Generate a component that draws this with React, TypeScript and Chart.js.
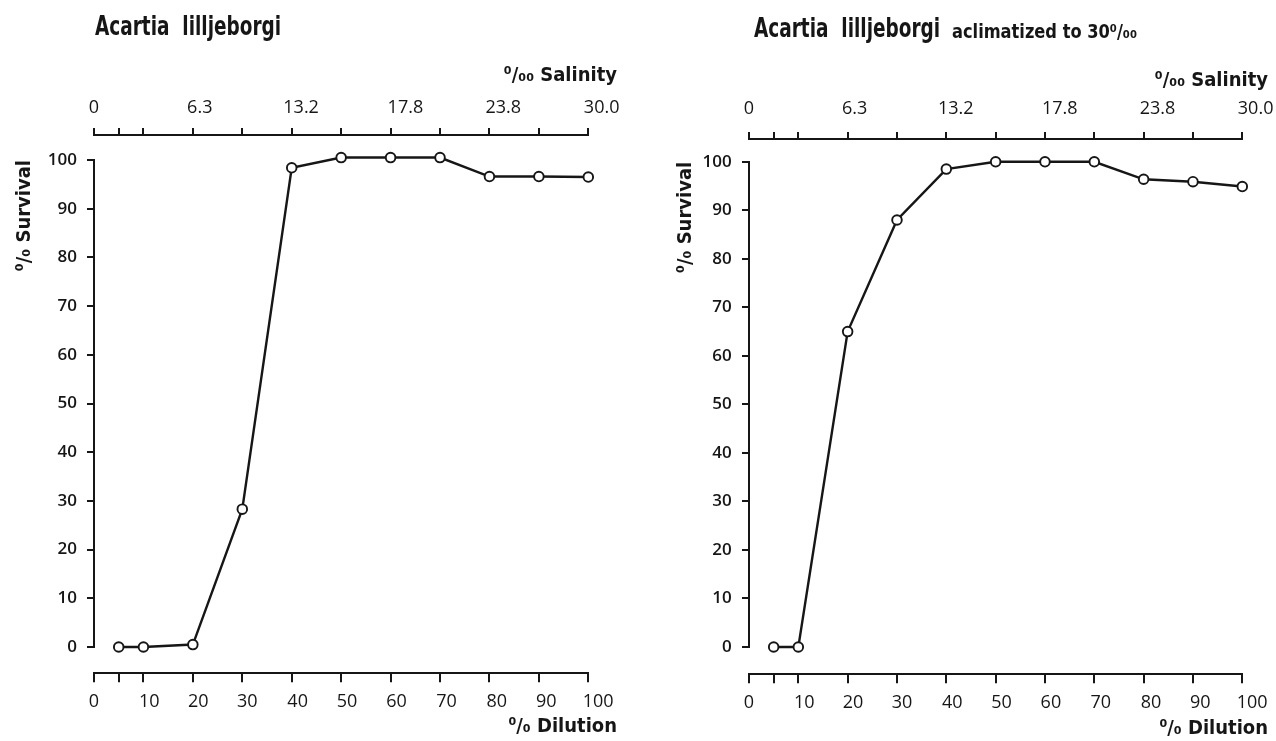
import React, { useEffect, useRef } from 'react';
import { Chart, registerables } from 'chart.js';

Chart.register(...registerables);

// ---- data ----
const dilution = [5, 10, 20, 30, 40, 50, 60, 70, 80, 90, 100];
const survivalPlain = [0, 0, 0.5, 28.3, 98.4, 100.5, 100.5, 100.5, 96.6, 96.6, 96.5];
const survivalAcclimated = [0, 0, 65, 88, 98.5, 100, 100, 100, 96.4, 95.9, 94.9];

const tickMarks = [0, 5, 10, 20, 30, 40, 50, 60, 70, 80, 90, 100];
const dilutionLabels = ['0', '10', '20', '30', '40', '50', '60', '70', '80', '90', '100'];
const dilutionLabelAt = [0, 11.2, 21.1, 31, 41.2, 51.2, 61.2, 71.3, 81.5, 91.5, 102];
const salinityLabels = ['0', '6.3', '13.2', '17.8', '23.8', '30.0'];
const salinityLabelAt = [0, 21.4, 41.9, 63, 82.8, 102.7];

const INK = '#161616';
const NARROW = '"Liberation Sans Narrow", "DejaVu Sans Condensed", "Liberation Sans", sans-serif';
const TICKFONT = '"Open Sans", "DejaVu Sans", sans-serif';

type Geo = {
  padL: number; padR: number; yW: number; rightW: number;
  titlePadTop: number; topAxisH: number; topLabelPad: number; topGap: number;
  bottomGap: number; bottomAxisH: number; bottomLabelPad: number; subPadBottom: number;
  yTitlePad: number; yLabelPad: number;
};

const geoLeft: Geo = {
  padL: 5, padR: 23, yW: 89, rightW: 28.7,
  titlePadTop: 64, topAxisH: 47, topLabelPad: 9.7, topGap: 25,
  bottomGap: 26.3, bottomAxisH: 41.7, bottomLabelPad: 8.4, subPadBottom: 2,
  yTitlePad: 8, yLabelPad: 10,
};

const geoRight: Geo = {
  padL: 25, padR: 8, yW: 84, rightW: 25.7,
  titlePadTop: 69, topAxisH: 46, topLabelPad: 12.2, topGap: 22.8,
  bottomGap: 27.3, bottomAxisH: 42.7, bottomLabelPad: 8.4, subPadBottom: 0,
  yTitlePad: 9, yLabelPad: 10.3,
};

function spacer(position: string, weight: number, size: number) {
  const horizontal = position === 'top' || position === 'bottom';
  return {
    type: 'linear',
    axis: horizontal ? 'x' : 'y',
    position,
    weight,
    display: true,
    grid: { display: false, drawTicks: false },
    border: { display: false },
    ticks: { display: false },
    afterFit: (s: any) => {
      if (horizontal) { s.height = size; s.paddingLeft = 0; s.paddingRight = 0; }
      else { s.width = size; s.paddingTop = 0; s.paddingBottom = 0; }
    },
  };
}

function markedAxis(position: string, labelAt: number[], labels: string[], height: number, tickLen: number, labelPad: number) {
  return {
    type: 'linear',
    axis: 'x',
    position,
    weight: 1,
    min: 0,
    max: 100,
    afterBuildTicks: (s: any) => {
      s.ticks = [...tickMarks, ...labelAt].map((v) => ({ value: v }));
    },
    afterFit: (s: any) => { s.height = height; s.paddingLeft = 0; s.paddingRight = 0; },
    grid: {
      display: true,
      drawOnChartArea: false,
      drawTicks: true,
      tickLength: tickLen,
      lineWidth: 2,
      color: INK,
      tickColor: (c: any) => (c.index < tickMarks.length ? INK : 'rgba(0,0,0,0)'),
    },
    border: { display: true, color: INK, width: 2 },
    ticks: {
      autoSkip: false,
      maxRotation: 0,
      minRotation: 0,
      padding: labelPad,
      color: INK,
      font: { family: TICKFONT, size: 18, weight: 'normal' },
      callback: (_v: any, i: number) => (i >= tickMarks.length ? labels[i - tickMarks.length] : ''),
    },
  };
}

function buildChart(canvas: HTMLCanvasElement, values: number[], g: Geo) {
  const points = dilution.map((d, i) => ({ x: d, y: values[i] }));
  return new Chart(canvas, {
    type: 'line',
    data: {
      datasets: [
        {
          data: points,
          xAxisID: 'x',
          yAxisID: 'y',
          borderColor: INK,
          borderWidth: 2.4,
          backgroundColor: '#ffffff',
          pointBackgroundColor: '#ffffff',
          pointBorderColor: INK,
          pointBorderWidth: 1.9,
          pointRadius: 4.8,
          tension: 0,
          clip: false as any,
        },
      ],
    },
    options: {
      responsive: false,
      animation: false,
      events: [],
      layout: { padding: { left: g.padL, right: g.padR, top: 0, bottom: 0 } },
      plugins: {
        legend: { display: false },
        tooltip: { enabled: false },
        title: {
          display: true,
          text: '\u2070/\u2080\u2080 Salinity',
          position: 'top',
          align: 'end',
          color: INK,
          font: { family: NARROW, size: 20, weight: 'bold' },
          padding: { top: g.titlePadTop, bottom: 0 },
        },
        subtitle: {
          display: true,
          text: '\u2070/\u2080 Dilution',
          position: 'bottom',
          align: 'end',
          color: INK,
          font: { family: NARROW, size: 20, weight: 'bold' },
          padding: { top: 0, bottom: g.subPadBottom },
        },
      },
      scales: {
        x: markedAxis('bottom', dilutionLabelAt, dilutionLabels, g.bottomAxisH, 9, g.bottomLabelPad) as any,
        y: {
          type: 'linear',
          axis: 'y',
          position: 'left',
          min: 0,
          max: 100,
          afterFit: (s: any) => { s.width = g.yW; },
          grid: {
            display: true,
            drawOnChartArea: false,
            drawTicks: true,
            tickLength: 7,
            lineWidth: 2,
            color: INK,
          },
          border: { display: true, color: INK, width: 2 },
          ticks: {
            stepSize: 10,
            padding: g.yLabelPad,
            color: INK,
            font: { family: TICKFONT, size: 17, weight: '600' },
          },
          title: {
            display: true,
            text: '\u2070/\u2080 Survival',
            align: 'end',
            color: INK,
            font: { family: NARROW, size: 20, weight: 'bold' },
            padding: { top: g.yTitlePad, bottom: 0 },
          },
        } as any,
        x2: markedAxis('top', salinityLabelAt, salinityLabels, g.topAxisH, 7, g.topLabelPad) as any,
        gapTop: spacer('top', 0, g.topGap) as any,
        gapBottom: spacer('bottom', 0, g.bottomGap) as any,
        gapRight: spacer('right', 0, g.rightW) as any,
      },
    },
  });
}

export default function App() {
  const leftRef = useRef<HTMLCanvasElement | null>(null);
  const rightRef = useRef<HTMLCanvasElement | null>(null);

  useEffect(() => {
    const a = buildChart(leftRef.current!, survivalPlain, geoLeft);
    const b = buildChart(rightRef.current!, survivalAcclimated, geoRight);
    return () => { a.destroy(); b.destroy(); };
  }, []);

  const titleStyle: React.CSSProperties = {
    position: 'absolute',
    fontFamily: NARROW,
    fontWeight: 'bold',
    fontSize: 26,
    lineHeight: '30px',
    color: INK,
    whiteSpace: 'pre',
    transformOrigin: '0 50%',
  };

  return (
    <div style={{ position: 'absolute', left: 0, top: 0, width: 1276, height: 741, background: '#ffffff', overflow: 'hidden' }}>
      <canvas ref={leftRef} width={640} height={741} style={{ position: 'absolute', left: 0, top: 0, width: 640, height: 741 }} />
      <canvas ref={rightRef} width={636} height={741} style={{ position: 'absolute', left: 640, top: 0, width: 636, height: 741 }} />
      <div style={{ ...titleStyle, left: 95, top: 11, transform: 'scaleX(0.79)' }}>Acartia  lilljeborgi</div>
      <div style={{ ...titleStyle, left: 754, top: 13, transform: 'scaleX(0.79)' }}>Acartia  lilljeborgi</div>
      <div style={{ ...titleStyle, left: 952, top: 13, fontSize: 19, transform: 'scaleX(0.95)', paddingTop: 3 }}>
        aclimatized to 30{'\u2070/\u2080\u2080'}
      </div>
    </div>
  );
}
